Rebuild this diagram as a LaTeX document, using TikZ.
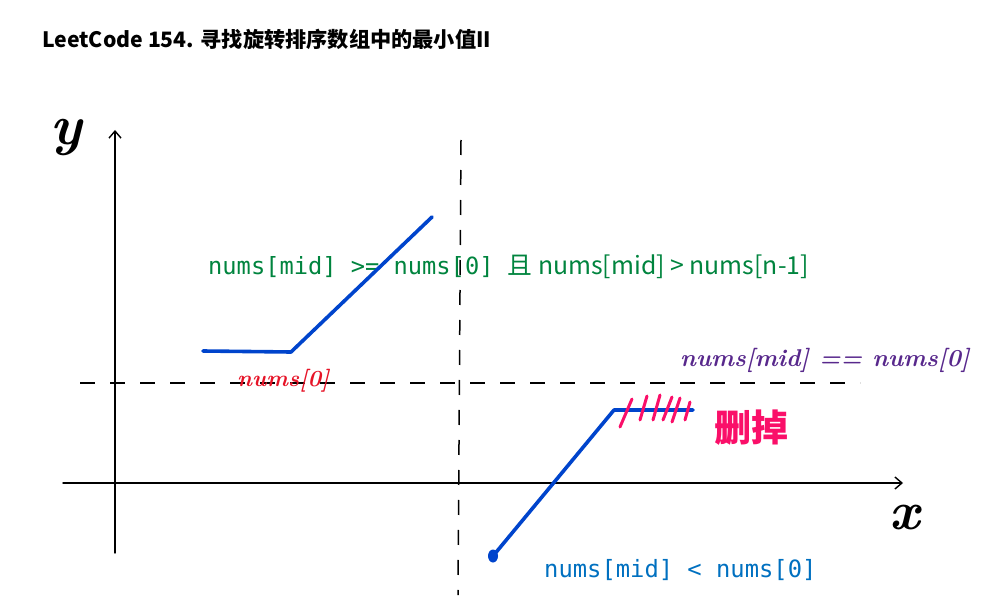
\documentclass[tikz,border=0pt]{standalone}
\usepackage{fontspec}
\newfontfamily\cjk{Noto Sans CJK SC}
\newfontfamily\monofont{DejaVu Sans Mono}
\usetikzlibrary{arrows.meta,positioning}

\definecolor{lineblue}{RGB}{0,68,204}
\definecolor{condgreen}{RGB}{0,132,62}
\definecolor{condblue}{RGB}{0,112,192}
\definecolor{notepurple}{RGB}{88,40,140}
\definecolor{notered}{RGB}{230,20,40}
\definecolor{notepink}{RGB}{250,15,105}

\begin{document}
\begin{tikzpicture}[x=1pt,y=-1pt,line cap=round,inner sep=0pt]
  \tikzstyle{axis}=[line width=1.4pt,-{Straight Barb[length=7pt,width=12pt]}]
  \tikzstyle{guide}=[line width=1.5pt,line cap=butt,dash pattern=on 15pt off 15pt]
  \tikzstyle{curve}=[line width=3.6pt,lineblue,line join=round]
  \tikzstyle{hand}=[font=\bfseries\itshape\fontsize{24.3}{30}\selectfont]

  \useasboundingbox (0,0) rectangle (998,615);

  \node[anchor=base west] (title) at (42,48)
    {\cjk\bfseries\fontsize{21.2}{24}\selectfont LeetCode 154. 寻找旋转排序数组中的最小值II};

  % conditions
  \node[anchor=base west,text=condgreen] (upper) at (208,274)
    {\monofont\fontsize{23.7}{28}\selectfont nums[mid] >= nums[0] {\cjk\fontsize{24.8}{28}\selectfont 且 nums[mid] > nums[n-1]}};
  \node[anchor=base west,text=condblue] (lower) at (544,577)
    {\monofont\fontsize{23.8}{28}\selectfont nums[mid] < nums[0]};

  % axes and guides
  \coordinate (ybot) at (115,553);
  \coordinate (ytop) at (115,130);
  \coordinate (xleft) at (63,483);
  \coordinate (xright) at (903,483);
  \coordinate (vtop) at (461,140);
  \coordinate (vbot) at (458,595);
  \coordinate (hleft) at (80,383);
  \coordinate (hright) at (860,383);

  \draw[axis] (ybot) -- (ytop);
  \draw[axis] (xleft) -- (xright);
  \draw[guide] (vtop) -- (vbot);
  \draw[guide] (hleft) -- (hright);

  \node[font=\bfseries\itshape\fontsize{56}{60}\selectfont] (ylabel) at (66,138) {y};
  \node[font=\bfseries\itshape\fontsize{54}{58}\selectfont] (xlabel) at (905,518) {x};

  % the two pieces
  \coordinate (a0) at (203,351);
  \coordinate (a1) at (291,352);
  \coordinate (a2) at (432,217);
  \coordinate (b0) at (493,556);
  \coordinate (b1) at (614,410);
  \coordinate (b2) at (693,410);

  \draw[curve] (a0) -- (a1) -- (a2);
  \draw[curve] (b0) -- (b1) -- (b2);
  \fill[lineblue] (b0) ellipse (5pt and 6.5pt);

  % notes
  \node[hand,text=notered,anchor=base west,font=\bfseries\itshape\fontsize{23}{28}\selectfont] (first) at (237,386) {nums[0]};
  \node[hand,text=notepurple,anchor=base west] (equal) at (680,366) {nums[mid] == nums[0]};

  \draw[notepink,line width=3pt]
    (620,427) -- (632,399)
    (640,420) -- (647,396)
    (653,420) -- (660,395)
    (663,420) -- (672,397)
    (672,422) -- (680,398)
    (685,420) -- (690,402);
  \node[text=notepink,anchor=west] (drop) at (714,428)
    {\cjk\bfseries\fontsize{37}{40}\selectfont 删掉};
\end{tikzpicture}
\end{document}
